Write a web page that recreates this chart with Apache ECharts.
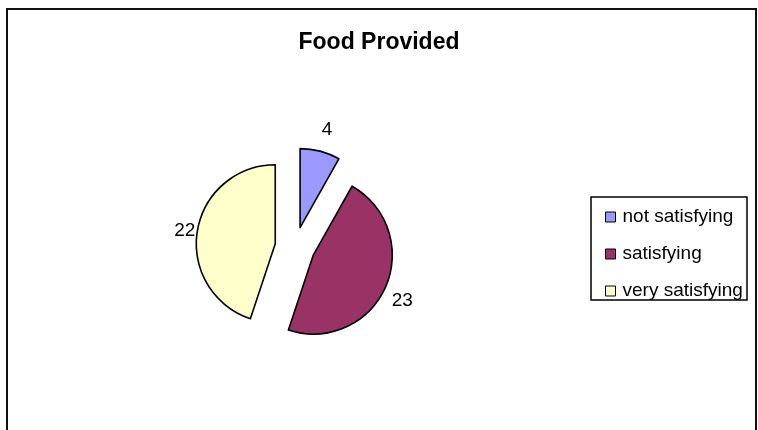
<!DOCTYPE html>
<html>
<head>
<meta charset="utf-8">
<script src="https://cdn.jsdelivr.net/npm/echarts@6/dist/echarts.min.js"></script>
<style>
  html, body { margin: 0; padding: 0; background: #fff; }
  #main { width: 758px; height: 430px; }
</style>
</head>
<body>
<div id="main"></div>
<script>
// slice names and answer counts
const categories = ["not satisfying", "satisfying", "very satisfying"];
const counts = [4, 23, 22];

const sliceColors = ["#9999ff", "#993366", "#ffffcc"];
// where each value label sits relative to its slice
const labelGap = [22, 33, 3];
const labelShift = [-9, -29, -6];

var chartDom = document.getElementById("main");
var myChart = echarts.init(chartDom);
var option;

option = {
  animation: false,
  color: sliceColors,
  textStyle: { fontFamily: "Arial, 'Liberation Sans', sans-serif" },
  title: {
    text: "Food Provided",
    left: "center",
    top: 26,
    textStyle: { fontSize: 23, fontWeight: "bold", color: "#000" },
  },
  graphic: [
    {
      type: "rect",
      shape: { x: 7, y: 9, width: 749, height: 440 },
      style: { fill: "none", stroke: "#111", lineWidth: 2 },
      silent: true,
    },
    {
      type: "rect",
      shape: { x: 591, y: 197, width: 156, height: 103 },
      style: { fill: "#fff", stroke: "#000", lineWidth: 1.5 },
      silent: true,
      z: 0,
    },
  ],
  legend: {
    orient: "vertical",
    left: 600,
    top: 202,
    itemWidth: 10,
    itemHeight: 10,
    itemGap: 17,
    icon: "rect",
    itemStyle: { borderColor: "#000", borderWidth: 1 },
    textStyle: {
      fontSize: 19,
      color: "#000",
      lineHeight: 20,
      padding: [0, 0, 0, 2],
    },
    data: categories,
    selectedMode: false,
    z: 5,
  },
  series: [
    {
      type: "pie",
      center: [295, 247],
      radius: 79,
      startAngle: 90,
      clockwise: true,
      selectedMode: "multiple",
      selectedOffset: 20,
      avoidLabelOverlap: false,
      itemStyle: { borderColor: "#000", borderWidth: 1.6 },
      select: { itemStyle: { borderColor: "#000", borderWidth: 1.6 } },
      emphasis: { disabled: true },
      label: {
        show: true,
        position: "outside",
        formatter: "{c}",
        fontSize: 19,
        color: "#000",
      },
      labelLine: { show: false, length: 3, length2: 0 },
      data: categories.map(function (name, i) {
        return {
          name: name,
          value: counts[i],
          selected: true,
          labelLine: { show: false, length: labelGap[i], length2: labelShift[i] },
        };
      }),
    },
  ],
};

option && myChart.setOption(option);
</script>
</body>
</html>
